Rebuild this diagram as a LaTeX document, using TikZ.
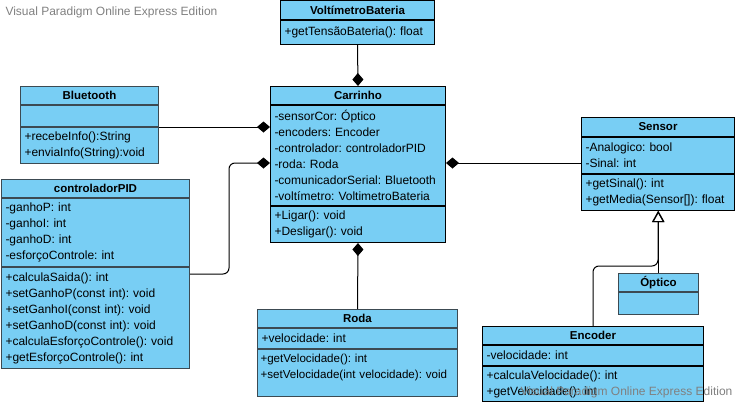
\documentclass[tikz,border=0pt]{standalone}
\usepackage{fontspec}
\setmainfont{Liberation Sans}
\usetikzlibrary{arrows.meta, positioning}
\definecolor{clsfill}{HTML}{78CEF4}
\definecolor{clsgray}{HTML}{3C4A52}
\definecolor{wmgray}{HTML}{808080}
\frenchspacing

\begin{document}
\begin{tikzpicture}[x=1pt, y=-1pt, line width=1pt,
  hd/.style={draw, fill=clsfill, anchor=north west, inner xsep=4pt, inner ysep=0pt, text width=#1, align=center, minimum height=18pt, font=\fontsize{11.5}{16}\selectfont\bfseries},
  sec/.style={draw, fill=clsfill, anchor=north west, inner xsep=4pt, inner ysep=0pt, text width=#1, align=left, font=\fontsize{12}{16}\selectfont},
  agg/.style={-{Diamond[length=13pt, width=11pt]}},
  gen/.style={-{Triangle[open, length=11pt, width=12pt]}},
  wm/.style={anchor=west, text=wmgray, inner sep=0pt, font=\fontsize{12}{14}\selectfont}]
  \useasboundingbox (0,0) rectangle (737,402);

  % VoltimetroBateria
  \node[hd=146, minimum height=19pt] (volt) at (280,0) {VoltímetroBateria};
  \node[sec=146, minimum height=24pt] (voltM) at (volt.south west) {+getTensãoBateria(): float};

  % Carrinho
  \node[hd=167] (car) at (270,86) {Carrinho};
  \node[sec=167, minimum height=100pt] (carA) at (car.south west) {-sensorCor: Óptico\\-encoders: Encoder\\-controlador: controladorPID\\-roda: Roda\\-comunicadorSerial: Bluetooth\\-voltímetro: VoltimetroBateria};
  \node[sec=167, minimum height=36pt] (carM) at (carA.south west) {+Ligar(): void\\+Desligar(): void};

  % Bluetooth
  \node[hd=130, draw=clsgray] (bt) at (20,86) {Bluetooth};
  \node[sec=130, draw=clsgray, minimum height=21pt] (btA) at (bt.south west) {};
  \node[sec=130, draw=clsgray, minimum height=36pt] (btM) at (btA.south west) {+recebeInfo():String\\+enviaInfo(String):void};

  % controladorPID
  \node[hd=180, draw=clsgray] (pid) at (1,179) {controladorPID};
  \node[sec=180, draw=clsgray, minimum height=68pt] (pidA) at (pid.south west) {-ganhoP: int\\-ganhoI: int\\-ganhoD: int\\-esforçoControle: int};
  \node[sec=180, draw=clsgray, minimum height=101pt] (pidM) at (pidA.south west) {+calculaSaida(): int\\+setGanhoP(const int): void\\+setGanhoI(const int): void\\+setGanhoD(const int): void\\+calculaEsforçoControle(): void\\+getEsforçoControle(): int};

  % Sensor
  \node[hd=145, minimum height=19pt] (sen) at (581,117) {Sensor};
  \node[sec=145, minimum height=36pt] (senA) at (sen.south west) {-Analogico: bool\\-Sinal: int};
  \node[sec=145, minimum height=36pt] (senM) at (senA.south west) {+getSinal(): int\\+getMedia(Sensor[]): float};

  % Roda
  \node[hd=192, draw=clsgray] (roda) at (257,309) {Roda};
  \node[sec=192, draw=clsgray, minimum height=20pt] (rodaA) at (roda.south west) {+velocidade: int};
  \node[sec=194, inner xsep=3pt, draw=clsgray, minimum height=47pt, text depth=29pt, font=\fontsize{11.6}{16}\selectfont] (rodaM) at (rodaA.south west) {+getVelocidade(): int\\+setVelocidade(int velocidade): void};

  % Optico
  \node[hd=72, draw=clsgray] (opt) at (618,273) {Óptico};
  \node[sec=72, draw=clsgray, minimum height=22pt] (optA) at (opt.south west) {};

  % Encoder
  \node[hd=213] (enc) at (482,326) {Encoder};
  \node[sec=213, minimum height=20pt] (encA) at (enc.south west) {-velocidade: int};
  \node[sec=213, minimum height=35pt] (encM) at (encA.south west) {+calculaVelocidade(): int\\+getVelocidade(): int};

  % watermarks
  \node[wm] (wm1) at (5,12) {Visual Paradigm Online Express Edition};
  \node[wm] (wm2) at (520,392) {Visual Paradigm Online Express Edition};

  % associations
  \coordinate (pidk) at (229,163);
  \coordinate (gj) at (658,266);
  \draw[agg] (voltM.south) -- (car.north);
  \draw[agg] (btA.south east) -- (btA.south east -| carA.west);
  \draw[agg, rounded corners=6pt] ([yshift=-7pt]pidM.north east) -| (pidk) -- (pidk -| carA.west);
  \draw[agg] (senA.west |- pidk) -- (carA.east |- pidk);
  \draw[agg] (roda.north) -- (carM.south);
  \draw[gen] (opt.north) -- (senM.south -| opt.north);
  \draw[gen, rounded corners=6pt] (enc.north) |- (gj) -- (senM.south -| gj);
\end{tikzpicture}
\end{document}
